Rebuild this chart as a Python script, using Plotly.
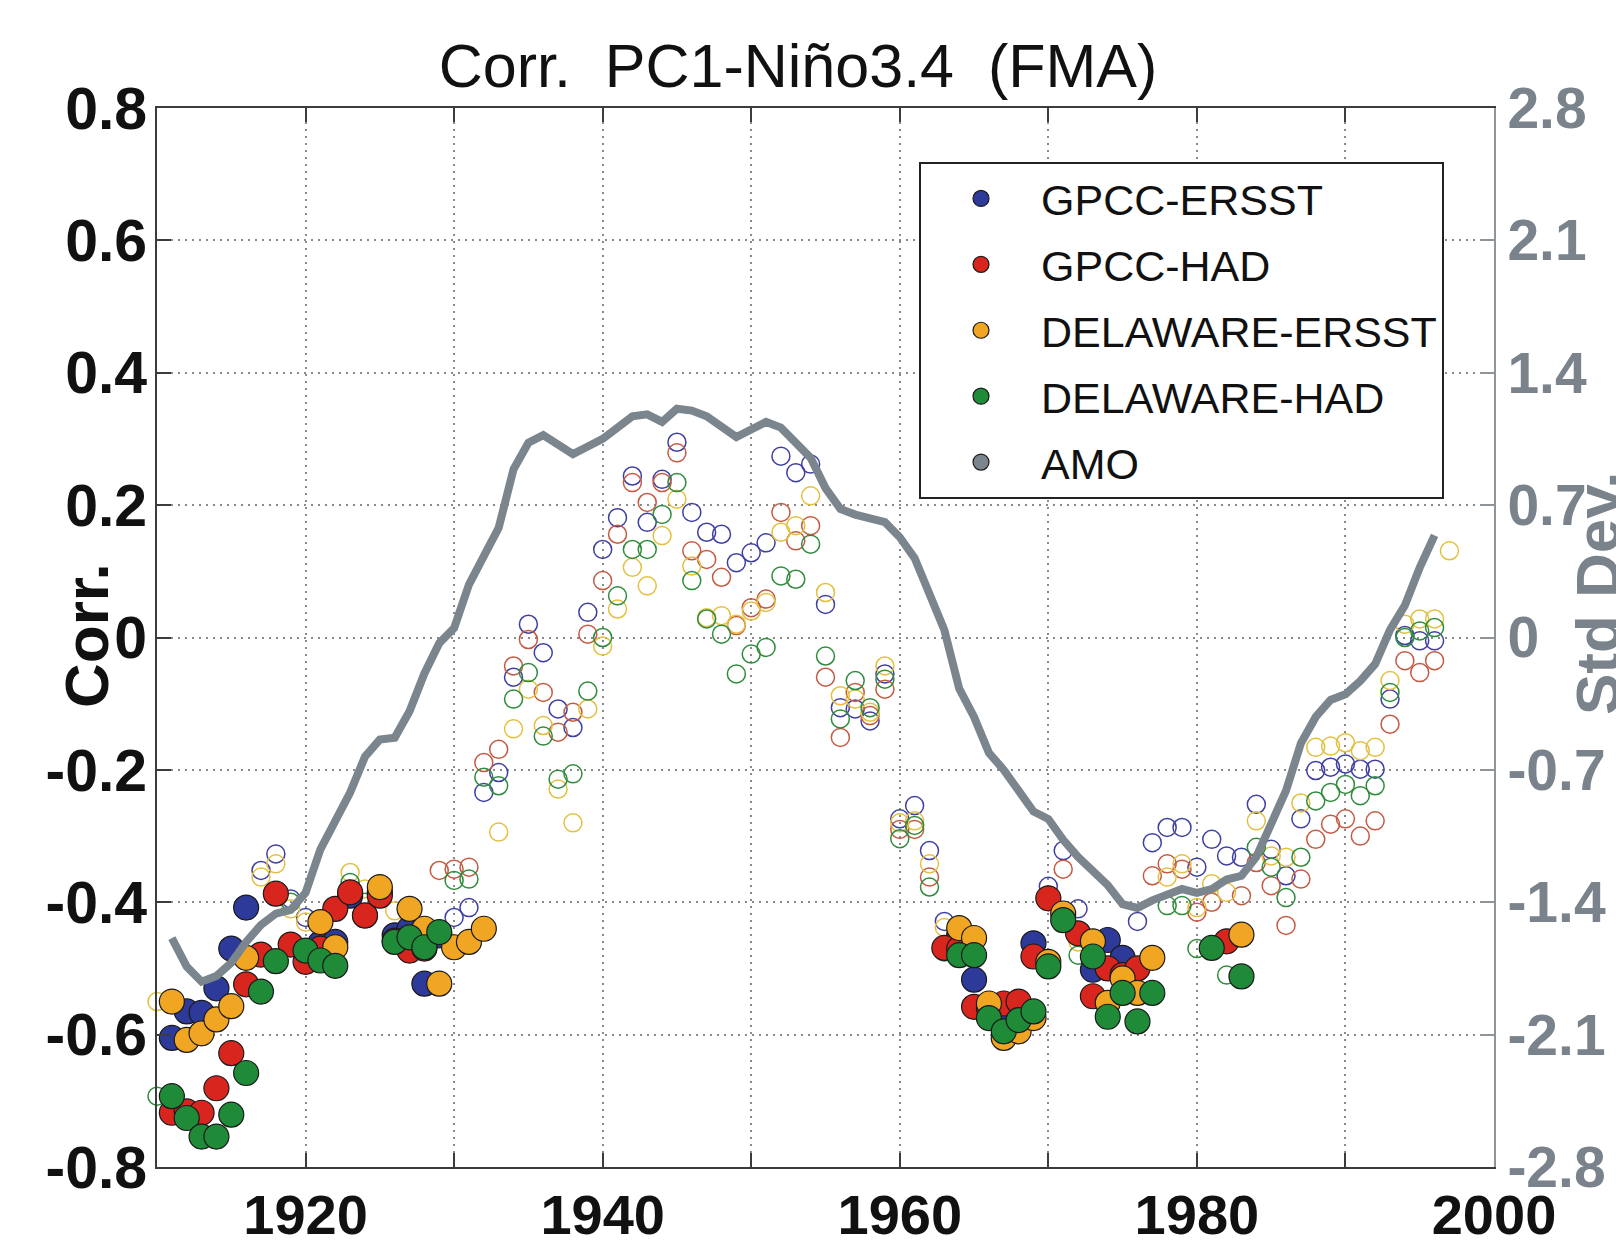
import plotly.graph_objects as go

# ---------------- data ----------------
years = list(range(1910, 1998))

gpcc_ersst = [
    None, -0.605, -0.565, -0.567, -0.53, -0.47, -0.408, -0.352, -0.327, -0.395,
    -0.423, -0.462, -0.46, -0.39, -0.42, -0.385, -0.45, -0.44, -0.523, -0.45,
    -0.423, -0.408, -0.234, -0.204, -0.06, 0.02, -0.023, -0.108, -0.136, 0.038,
    0.133, 0.181, 0.244, 0.174, 0.239, 0.295, 0.189, 0.159, 0.156, 0.113,
    0.128, 0.143, 0.274, 0.249, 0.262, 0.05, -0.106, -0.108, -0.126, -0.055,
    -0.274, -0.254, -0.322, -0.429, -0.45, -0.517, -0.56, -0.56, -0.555, -0.462,
    -0.376, -0.322, -0.41, -0.502, -0.457, -0.484, -0.429, -0.31, -0.287, -0.287,
    -0.347, -0.305, -0.33, -0.332, -0.252, -0.32, -0.36, -0.274, -0.201, -0.196,
    -0.191, -0.199, -0.199, -0.093, 0.003, -0.005, -0.005, None]

gpcc_had = [
    None, -0.718, -0.716, -0.718, -0.681, -0.628, -0.524, -0.479, -0.387, -0.464,
    -0.49, -0.47, -0.41, -0.385, -0.42, -0.39, -0.458, -0.473, -0.47, -0.352,
    -0.35, -0.347, -0.189, -0.169, -0.043, -0.003, -0.083, -0.143, -0.113, 0.005,
    0.086, 0.156, 0.234, 0.204, 0.234, 0.279, 0.131, 0.118, 0.091, 0.018,
    0.045, 0.058, 0.189, 0.146, 0.169, -0.06, -0.151, -0.083, -0.118, -0.078,
    -0.29, -0.29, -0.362, -0.469, -0.47, -0.558, -0.56, -0.553, -0.55, -0.482,
    -0.394, -0.35, -0.447, -0.542, -0.5, -0.51, -0.5, -0.36, -0.342, -0.35,
    -0.415, -0.40, -0.459, -0.39, -0.34, -0.375, -0.435, -0.365, -0.305, -0.282,
    -0.274, -0.3, -0.277, -0.131, -0.035, -0.053, -0.035, None]

delaware_ersst = [
    -0.55, -0.55, -0.608, -0.598, -0.577, -0.557, -0.484, -0.362, -0.342, -0.41,
    -0.43, -0.43, -0.468, -0.355, -0.38, -0.377, -0.413, -0.41, -0.44, -0.523,
    -0.468, -0.46, -0.44, -0.294, -0.138, -0.078, -0.133, -0.229, -0.28, -0.108,
    -0.013, 0.043, 0.106, 0.078, 0.154, 0.209, 0.108, 0.03, 0.033, 0.02,
    0.04, 0.053, 0.159, 0.169, 0.214, 0.068, -0.088, -0.093, -0.113, -0.043,
    -0.28, -0.277, -0.342, -0.438, -0.439, -0.454, -0.553, -0.605, -0.595, -0.575,
    -0.49, -0.417, -0.46, -0.459, -0.552, -0.515, -0.537, -0.484, -0.362, -0.342,
    -0.408, -0.372, -0.385, -0.449, -0.277, -0.33, -0.332, -0.25, -0.166, -0.164,
    -0.159, -0.171, -0.166, -0.065, 0.02, 0.028, 0.028, 0.131]

delaware_had = [
    -0.693, -0.693, -0.726, -0.754, -0.754, -0.721, -0.658, -0.535, -0.489, -0.40,
    -0.473, -0.488, -0.496, -0.37, -0.40, -0.375, -0.46, -0.453, -0.468, -0.445,
    -0.367, -0.365, -0.211, -0.224, -0.093, -0.053, -0.149, -0.214, -0.206, -0.081,
    0.0, 0.063, 0.133, 0.133, 0.186, 0.234, 0.086, 0.028, 0.005, -0.055,
    -0.025, -0.015, 0.093, 0.088, 0.141, -0.028, -0.123, -0.065, -0.106, -0.063,
    -0.304, -0.284, -0.377, -0.475, -0.48, -0.48, -0.575, -0.595, -0.578, -0.565,
    -0.497, -0.427, -0.48, -0.482, -0.573, -0.537, -0.58, -0.537, -0.405, -0.405,
    -0.47, -0.469, -0.51, -0.512, -0.317, -0.347, -0.393, -0.332, -0.247, -0.234,
    -0.222, -0.239, -0.224, -0.083, 0.0, 0.01, 0.015, None]

# 1 = significant (filled marker), 0 = not significant (open marker); one digit per year 1910-1997
sig_gpcc_ersst = ("0111111000" "0111111111" "0000000000" "0000000000" "0000000000"
                  "0000111111" "0001110000" "0000000000" "00000000")
sig_gpcc_had = ("0111111111" "1111111110" "0000000000" "0000000000" "0000000000"
                "0001111111" "1011111000" "0010000000" "00000000")
sig_delaware_ersst = ("0111111000" "0110010111" "1110000000" "0000000000" "0000000000"
                      "0000111111" "1101111100" "0001000000" "00000000")
sig_delaware_had = ("0111111110" "1110001111" "0000000000" "0000000000" "0000000000"
                    "0000111111" "1101111100" "0101000000" "00000000")

amo_years = list(range(1911, 1997))
amo_std = [
    -1.59, -1.74, -1.82, -1.79, -1.72, -1.61, -1.52, -1.46, -1.44,
    -1.35, -1.12, -0.98, -0.82, -0.63, -0.54, -0.53, -0.39, -0.19, -0.03,
    0.05, 0.28, 0.43, 0.58, 0.89, 1.03, 1.07, 1.02, 0.97, 1.01,
    1.05, 1.11, 1.17, 1.18, 1.14, 1.21, 1.20, 1.17, 1.11, 1.06,
    1.10, 1.14, 1.11, 1.03, 0.95, 0.79, 0.68, 0.65, 0.63, 0.61,
    0.53, 0.42, 0.23, 0.04, -0.27, -0.42, -0.61, -0.70, -0.81, -0.92,
    -0.96, -1.07, -1.16, -1.23, -1.31, -1.41, -1.43, -1.39, -1.36, -1.33,
    -1.35, -1.33, -1.28, -1.26, -1.16, -0.98, -0.81, -0.56, -0.42, -0.33,
    -0.30, -0.23, -0.14, 0.04, 0.17, 0.37, 0.54]

series_names = ["GPCC-ERSST", "GPCC-HAD", "DELAWARE-ERSST", "DELAWARE-HAD"]
x_tickvals = [1910, 1920, 1930, 1940, 1950, 1960, 1970, 1980, 1990, 2000]
x_ticktext = ["", "1920", "", "1940", "", "1960", "", "1980", "", "2000"]
y_tickvals = [0.8, 0.6, 0.4, 0.2, 0.0, -0.2, -0.4, -0.6, -0.8]
y_ticktext = ["0.8", "0.6", "0.4", "0.2", "0", "-0.2", "-0.4", "-0.6", "-0.8"]
y2_tickvals = [2.8, 2.1, 1.4, 0.7, 0.0, -0.7, -1.4, -2.1, -2.8]
y2_ticktext = ["2.8", "2.1", "1.4", "0.7", "0", "-0.7", "-1.4", "-2.1", "-2.8"]

# ---------------- styling ----------------
FONT = "Liberation Sans, Arial, Helvetica, sans-serif"
fill_colors = ["#2d3a99", "#d8261e", "#f0a623", "#1f8a38"]
open_colors = ["#3f3fa3", "#c45a42", "#e3c040", "#2f8c3c"]
AMO_COLOR = "#7b858d"
AXIS_GRAY = "#8d959b"

W, H = 1616, 1247
PL, PR, PT, PB = 157, 1494, 108, 1167   # plot-area edges in pixels
PW, PH = PR - PL, PB - PT

values = [gpcc_ersst, gpcc_had, delaware_ersst, delaware_had]
sigs = [sig_gpcc_ersst, sig_gpcc_had, sig_delaware_ersst, sig_delaware_had]

fig = go.Figure()

# open (non-significant) markers first
for vals, sig, col, name in zip(values, sigs, open_colors, series_names):
    y_open = [v if (v is not None and s == "0") else None for v, s in zip(vals, sig)]
    fig.add_trace(go.Scatter(
        x=years, y=y_open, mode="markers", name=name + " (n.s.)", showlegend=False,
        cliponaxis=False,
        marker=dict(symbol="circle-open", size=18, color=col, line=dict(width=1.5, color=col))))

# filled (significant) markers on top
for i, (vals, sig, col, name) in enumerate(zip(values, sigs, fill_colors, series_names)):
    y_fill = [v if (v is not None and s == "1") else None for v, s in zip(vals, sig)]
    fig.add_trace(go.Scatter(
        x=years, y=y_fill, mode="markers", name=name, showlegend=True, legendrank=i + 1,
        legendgroup=name, cliponaxis=False,
        marker=dict(symbol="circle", size=25, color=col, line=dict(width=1.2, color="#1a1a1a"))))

# AMO line on right axis
fig.add_trace(go.Scatter(
    x=amo_years, y=amo_std, mode="lines", name="AMO", showlegend=False, yaxis="y2",
    line=dict(color=AMO_COLOR, width=8)))
# legend entry for AMO shown as a marker, as in the original
fig.add_trace(go.Scatter(
    x=[None], y=[None], mode="markers", name="AMO", showlegend=True, legendrank=5,
    legendgroup="AMO", yaxis="y2",
    marker=dict(symbol="circle", size=25, color=AMO_COLOR, line=dict(width=1.2, color="#1a1a1a"))))

fig.update_layout(
    width=W, height=H, autosize=False,
    margin=dict(l=PL, r=W - PR, t=PT, b=H - PB, autoexpand=False),
    paper_bgcolor="white", plot_bgcolor="white",
    font=dict(family=FONT, color="black"),
    title=dict(text="Corr.  PC1-Niño3.4  (FMA)", x=798 / W, xref="container", xanchor="center",
               y=1 - 66 / H, yref="container", yanchor="middle",
               font=dict(family=FONT, size=61, color="#111111")),
    xaxis=dict(range=[1910, 2000], tickvals=x_tickvals, ticktext=x_ticktext,
               showline=True, linecolor="#3c3c3c", linewidth=2, mirror="ticks",
               ticks="inside", ticklen=14, tickwidth=2, tickcolor="#3c3c3c",
               showgrid=True, gridcolor="#8a8a8a", gridwidth=1.5, griddash="2px,5px",
               zeroline=False, automargin=False, ticklabelstandoff=-2,
               tickfont=dict(family=FONT, size=56, color="#111111", weight="bold")),
    yaxis=dict(range=[-0.8, 0.8], tickvals=y_tickvals, ticktext=y_ticktext,
               showline=True, linecolor="#3c3c3c", linewidth=2, mirror=False,
               ticks="inside", ticklen=14, tickwidth=2, tickcolor="#3c3c3c",
               showgrid=True, gridcolor="#8a8a8a", gridwidth=1.5, griddash="2px,5px",
               zeroline=False, automargin=False, ticklabelstandoff=-4,
               tickfont=dict(family=FONT, size=59, color="#111111", weight="bold")),
    yaxis2=dict(range=[-2.8, 2.8], tickvals=y2_tickvals, ticktext=y2_ticktext,
                overlaying="y", side="right", anchor="x",
                showline=True, linecolor=AXIS_GRAY, linewidth=2,
                ticks="inside", ticklen=14, tickwidth=2, tickcolor=AXIS_GRAY,
                showgrid=False, zeroline=False, automargin=False,
                tickfont=dict(family=FONT, size=57, color="#7a838b", weight="bold")),
    legend=dict(x=(919 - PL) / PW, y=(PB - 162) / PH, xanchor="left", yanchor="top",
                bgcolor="white", bordercolor="#222222", borderwidth=2,
                font=dict(family=FONT, size=43, color="#111111"),
                itemsizing="trace", tracegroupgap=7, itemwidth=110),
    annotations=[
        dict(text="<b>Corr.</b>", x=(86 - PL) / PW, y=(PB - 636) / PH,
             xref="paper", yref="paper", showarrow=False, textangle=-90,
             xanchor="center", yanchor="middle",
             font=dict(family=FONT, size=62, color="#111111")),
        dict(text="<b>Std Dev.</b>", x=(1597 - PL) / PW, y=(PB - 594) / PH,
             xref="paper", yref="paper", showarrow=False, textangle=-90,
             xanchor="center", yanchor="middle",
             font=dict(family=FONT, size=62, color="#7a838b")),
    ],
)

fig.write_html("out.html", config={"displayModeBar": False},
               post_script="document.body.style.margin='0';document.body.style.overflow='hidden';")
